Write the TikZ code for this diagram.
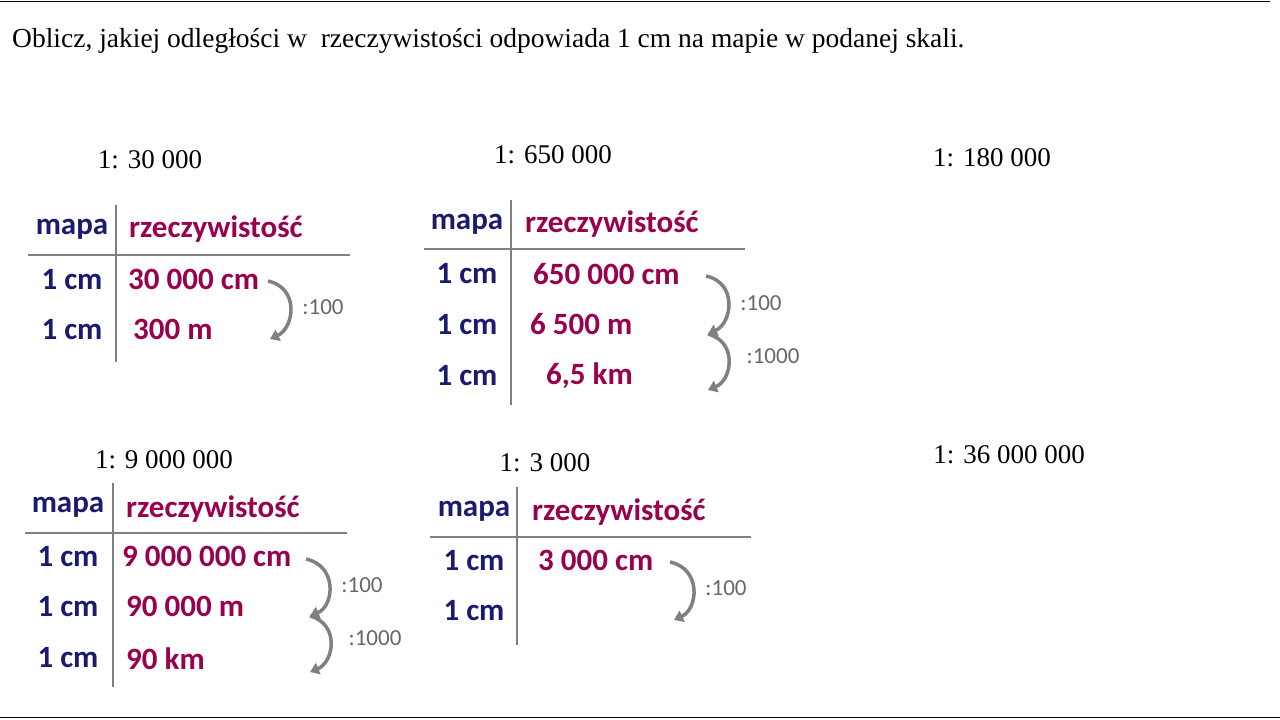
\documentclass[tikz,border=0pt]{standalone}
\usepackage{fontspec}
\setmainfont{Liberation Serif}
\newfontfamily\calfnt{Carlito}
\usetikzlibrary{arrows.meta}
\definecolor{navy}{HTML}{1A1A6E}
\definecolor{plum}{HTML}{99004D}
\definecolor{gr}{HTML}{808080}
\tikzset{x=1pt,y=-1pt,
 hd/.style={font=\calfnt\bfseries\fontsize{31}{33}\selectfont,inner sep=0},
 mp/.style={hd,text=navy},
 rz/.style={hd,text=plum,anchor=west},
 tl/.style={draw=gr,line width=2.2pt},
 ar/.style={draw=gr,line width=3.5pt,-{Triangle[length=9pt,width=12pt]}},
 lb/.style={font=\calfnt\fontsize{23}{25}\selectfont,text=gr!80!black},
 sc/.style={font=\fontsize{27}{29}\selectfont,inner sep=0}}
\begin{document}
\begin{tikzpicture}
\useasboundingbox (0,0) rectangle (1280,720);
\draw[line width=1pt] (0,1) -- (1270,1);
\draw[line width=1pt] (0,717) -- (1280,717);
\node[sc,anchor=west,font=\fontsize{27.5}{30}\selectfont] (t) at (12,41) {Oblicz, jakiej odległości w\ \ rzeczywistości odpowiada 1 cm na mapie w podanej skali.};
\node[sc] (s1) at (150,160) {1: 30 000};
\node[sc] (s2) at (553,155) {1: 650 000};
\node[sc] (s3) at (992,158) {1: 180 000};
\node[sc] (s4) at (164,460) {1: 9 000 000};
\node[sc] (s5) at (545,463) {1: 3 000};
\node[sc] (s6) at (1009,455) {1: 36 000 000};
% table 1
\coordinate (h1a) at (28,255); \coordinate (h1b) at (350,255);
\coordinate (v1a) at (116,205); \coordinate (v1b) at (116,362);
\draw[tl] (h1a) -- (h1b); \draw[tl] (v1a) -- (v1b);
\node[mp] (m1) at (72,229) {mapa};
\node[rz] (r1) at (129,229) {rzeczywistość};
\node[mp] (a1) at (72,280) {1 cm};
\node[mp] (b1) at (72,330) {1 cm};
\node[rz] (c1) at (128,279) {30 000 cm};
\node[rz] (d1) at (133,329) {300 m};
\coordinate (p1) at (268,281); \coordinate (q1) at (270,339);
\draw[ar] (p1) .. controls (300,288) and (294,328) .. (q1);
\node[lb] (l1) at (323,307) {:100};
% table 2
\coordinate (h2a) at (424,249); \coordinate (h2b) at (745,249);
\coordinate (v2a) at (511,200); \coordinate (v2b) at (511,405);
\draw[tl] (h2a) -- (h2b); \draw[tl] (v2a) -- (v2b);
\node[mp] (m2) at (467,224) {mapa};
\node[rz] (r2) at (525,224) {rzeczywistość};
\node[mp] (a2) at (467,274) {1 cm};
\node[mp] (b2) at (467,325) {1 cm};
\node[mp] (e2) at (467,376) {1 cm};
\node[rz] (c2) at (533,274) {650 000 cm};
\node[rz] (d2) at (530,324) {6 500 m};
\node[rz] (f2) at (546,376) {6,5 km};
\coordinate (p2) at (706,276); \coordinate (q2) at (708,334); \coordinate (u2) at (708,390);
\draw[ar] (p2) .. controls (738,283) and (732,323) .. (q2);
\draw[ar] (q2) .. controls (738,342) and (732,380) .. (u2);
\node[lb] (l2) at (761,303) {:100};
\node[lb] (k2) at (773,356) {:1000};
% table 3
\coordinate (h3a) at (25,533); \coordinate (h3b) at (347,533);
\coordinate (v3a) at (113,483); \coordinate (v3b) at (113,687);
\draw[tl] (h3a) -- (h3b); \draw[tl] (v3a) -- (v3b);
\node[mp] (m3) at (68,507) {mapa};
\node[rz] (r3) at (126,509) {rzeczywistość};
\node[mp] (a3) at (68,557) {1 cm};
\node[mp] (b3) at (68,607) {1 cm};
\node[mp] (e3) at (68,658) {1 cm};
\node[rz] (c3) at (122,556) {9 000 000 cm};
\node[rz] (d3) at (126,606) {90 000 m};
\node[rz] (f3) at (126,659) {90 km};
\coordinate (p3) at (306,559); \coordinate (q3) at (310,616); \coordinate (u3) at (310,672);
\draw[ar] (p3) .. controls (338,566) and (334,606) .. (q3);
\draw[ar] (q3) .. controls (340,624) and (334,662) .. (u3);
\node[lb] (l3) at (362,585) {:100};
\node[lb] (k3) at (375,638) {:1000};
% table 4
\coordinate (h4a) at (430,537); \coordinate (h4b) at (751,537);
\coordinate (v4a) at (517,487); \coordinate (v4b) at (517,645);
\draw[tl] (h4a) -- (h4b); \draw[tl] (v4a) -- (v4b);
\node[mp] (m4) at (474,511) {mapa};
\node[rz] (r4) at (532,512) {rzeczywistość};
\node[mp] (a4) at (474,561) {1 cm};
\node[mp] (b4) at (474,611) {1 cm};
\node[rz] (c4) at (538,560) {3 000 cm};
\coordinate (p4) at (670,562); \coordinate (q4) at (674,620);
\draw[ar] (p4) .. controls (702,569) and (698,609) .. (q4);
\node[lb] (l4) at (726,588) {:100};
\end{tikzpicture}
\end{document}
